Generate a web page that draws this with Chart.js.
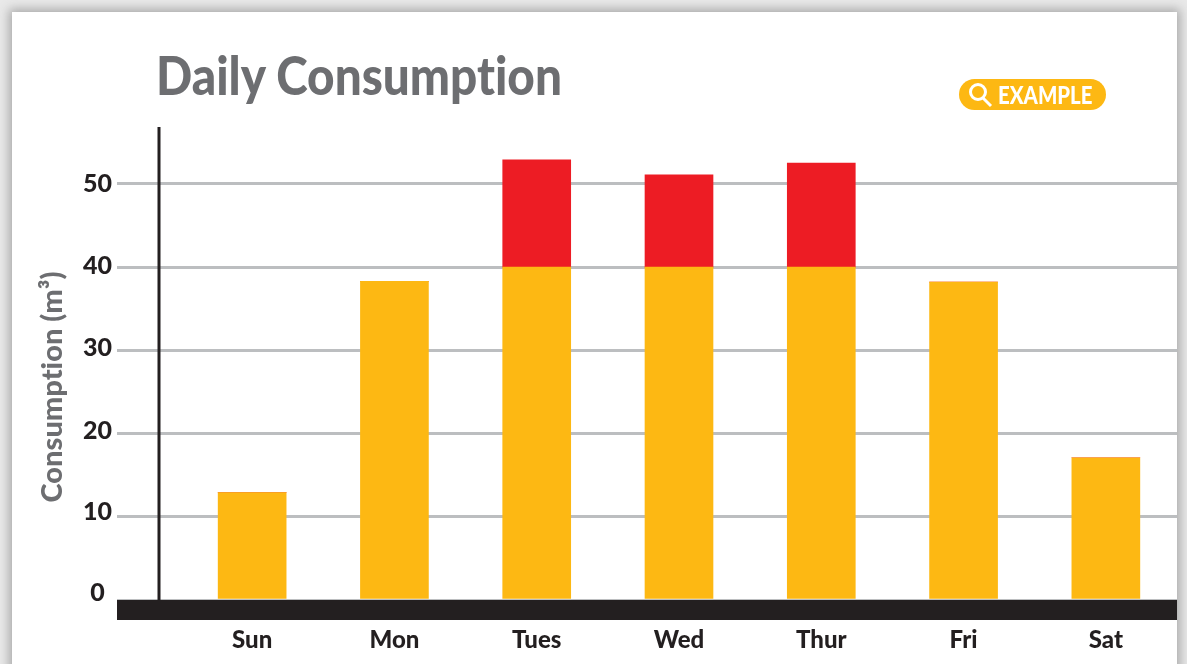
<!DOCTYPE html>
<html>
<head>
<meta charset="utf-8">
<style>
  html, body { margin: 0; padding: 0; background: #fff; overflow: hidden; }
  #page { position: relative; width: 1187px; height: 664px; overflow: hidden; background: #e9e9e9; }
  #card { position: absolute; left: 12px; top: 12px; width: 1165px; height: 680px; background: #fff; box-shadow: 0 0 10px 3px #a8a8a8; }
  #chart { position: absolute; left: 0; top: 0; }
  h1 { position: absolute; left: 156px; top: 43px; margin: 0; font: 900 53px Lato, sans-serif; font-variant-ligatures: none; color: #6d6e71; white-space: nowrap; transform-origin: left top; transform: scaleX(0.9); }
  #badge { position: absolute; left: 959px; top: 79px; width: 147px; height: 31px; border-radius: 16px; background: #fdb813; color: #fff; font: 900 24px Lato, sans-serif; line-height: 31px; }
  #badge span { position: absolute; left: 39px; top: 0; transform-origin: left center; transform: scaleX(0.85); }
  #badge svg { position: absolute; left: 8px; top: 3px; }
</style>
</head>
<body>
<div id="page">
  <div id="card"></div>
  <canvas id="chart" width="1187" height="664"></canvas>
  <h1>Daily Consumption</h1>
  <div id="badge">
    <svg width="26" height="26" viewBox="0 0 26 26"><circle cx="11" cy="10" r="7.5" fill="none" stroke="#fff" stroke-width="3"/><line x1="16" y1="16" x2="24" y2="24" stroke="#fff" stroke-width="3"/></svg>
    <span>EXAMPLE</span>
  </div>
</div>
<script src="https://cdn.jsdelivr.net/npm/chart.js@4"></script>
<script>
const days = ["Sun", "Mon", "Tues", "Wed", "Thur", "Fri", "Sat"];
const withinLimit = [12.9, 38.3, 40, 40, 40, 38.2, 17.1];
const overLimit = [0, 0, 12.9, 11.1, 12.5, 0, 0];
const axisTop = 56.85;
const tickStep = 10;
const yTitle = "Consumption (m³)";

const inkColor = "#231f20";
const greyText = "#6d6e71";
const fontName = "Lato, sans-serif";

// the y labels creep upward from the lines in the original, 0 sits well above the baseline
const labelLift = [7, 5, 3, 2, 1, 0];

const liftLabels = {
  id: "liftLabels",
  beforeDraw(chart) {
    chart.scales.y.getLabelItems().forEach((item, i) => {
      item.options.translation[1] -= labelLift[i];
    });
  },
};

// thick baseline, vertical axis and the y title, which sits below the middle of the axis
const axisLines = {
  id: "axisLines",
  afterDatasetsDraw(chart) {
    const ctx = chart.ctx;
    const zero = chart.scales.y.getPixelForValue(0);
    const top = chart.scales.y.top;
    ctx.save();
    ctx.fillStyle = inkColor;
    ctx.fillRect(157.5, top, 3, zero - top);
    ctx.fillRect(117, zero, chart.chartArea.right - 117, 20);

    ctx.translate(53, 387);
    ctx.rotate(-Math.PI / 2);
    ctx.font = "900 29px " + fontName;
    ctx.letterSpacing = "0.01px"; // stops the ti ligature
    ctx.fillStyle = greyText;
    ctx.textAlign = "center";
    ctx.textBaseline = "middle";
    ctx.fillText(yTitle, 0, 0);
    ctx.restore();
  },
};

new Chart(document.getElementById("chart"), {
  type: "bar",
  data: {
    labels: days,
    datasets: [
      { data: withinLimit, backgroundColor: "#fdb813", barThickness: 68 },
      { data: overLimit, backgroundColor: "#ed1c24", barThickness: 68 },
    ],
  },
  options: {
    responsive: false,
    animation: false,
    layout: { padding: { top: 127, right: 10, bottom: 0, left: 0 } },
    plugins: { legend: { display: false }, tooltip: { enabled: false } },
    scales: {
      x: {
        stacked: true,
        grid: { display: false },
        border: { display: false },
        ticks: {
          color: inkColor,
          padding: 18,
          maxRotation: 0,
          font: { family: fontName, size: 24, weight: "900" },
        },
        afterFit(scale) { scale.height = 64; },
      },
      y: {
        stacked: true,
        min: 0,
        max: axisTop,
        border: { display: false },
        grid: { color: "#bcbec0", lineWidth: 3, tickLength: 64, tickColor: "#bcbec0" },
        ticks: {
          stepSize: tickStep,
          includeBounds: false,
          color: inkColor,
          padding: 5,
          crossAlign: "center",
          font: { family: fontName, size: 25, weight: "900" },
        },
        afterFit(scale) { scale.width = 181; },
      },
    },
  },
  plugins: [liftLabels, axisLines],
});
</script>
</body>
</html>
